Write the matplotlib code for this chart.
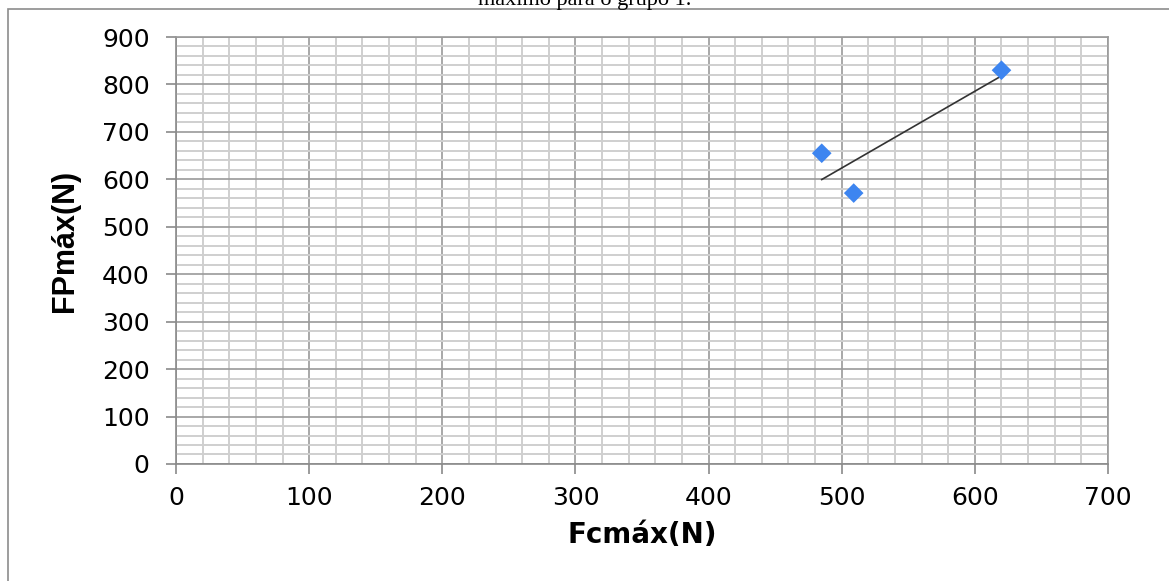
import numpy as np
import matplotlib
matplotlib.use("Agg")
import matplotlib.pyplot as plt
from matplotlib.patches import Rectangle
from matplotlib.ticker import MultipleLocator

# --- data ---
fc_max = [485, 509, 620]   # Fcmáx (N)
fp_max = [655, 571, 830]   # FPmáx (N)
x_ticks = [0, 100, 200, 300, 400, 500, 600, 700]
y_ticks = [0, 100, 200, 300, 400, 500, 600, 700, 800, 900]

plt.rcParams["font.family"] = ["DejaVu Sans"]

fig = plt.figure(figsize=(11.69, 5.81), dpi=100)
ax = fig.add_axes([0.1506, 0.2014, 0.7972, 0.7349])

# outer chart frame (cut off at right/bottom in the original)
fig.patches.append(Rectangle((8 / 1169, -0.1), 1.2, 1 - 9 / 581 + 0.1,
                             transform=fig.transFigure, fill=False,
                             edgecolor="#8c8c8c", linewidth=1.2))

# caption of the page, only its lower part shows
fig.text(0.5, 1 - 5 / 581, "máximo para o grupo 1.", ha="center", va="baseline",
         fontsize=16, family=["Liberation Serif", "DejaVu Serif"], color="black")

ax.set_xlim(0, 700)
ax.set_ylim(0, 900)
ax.set_xticks(x_ticks)
ax.set_yticks(y_ticks)
ax.xaxis.set_minor_locator(MultipleLocator(20))
ax.yaxis.set_minor_locator(MultipleLocator(20))

ax.grid(which="minor", color="#cfcfcf", linewidth=1.4)
ax.grid(which="major", color="#9a9a9a", linewidth=1.2)
ax.set_axisbelow(True)

for side in ["top", "right"]:
    ax.spines[side].set_color("#9a9a9a")
    ax.spines[side].set_linewidth(1.2)
for side in ["left", "bottom"]:
    ax.spines[side].set_color("#8a8a8a")
    ax.spines[side].set_linewidth(1.2)

ax.tick_params(which="major", direction="out", length=7, width=1.2,
               color="#8a8a8a", labelsize=18)
ax.tick_params(axis="y", pad=12)
ax.tick_params(axis="x", pad=9)
ax.tick_params(which="minor", length=0)

# data points
ax.scatter(fc_max, fp_max, marker="D", s=100, color="#3d85f0",
           edgecolors="none", zorder=4)

# linear trend line over the data range
slope, intercept = np.polyfit(fc_max, fp_max, 1)
xs = np.array([min(fc_max), max(fc_max)])
ax.plot(xs, slope * xs + intercept, color="#333333", linewidth=1.2, zorder=3)

ax.set_xlabel("Fcmáx(N)", fontsize=20, fontweight="bold", labelpad=8)
ax.set_ylabel("FPmáx(N)", fontsize=22, fontweight="bold",
              family=["Liberation Sans", "DejaVu Sans"])
ax.yaxis.set_label_coords(-0.103, 0.522)

fig.savefig("out.png", dpi=100)
